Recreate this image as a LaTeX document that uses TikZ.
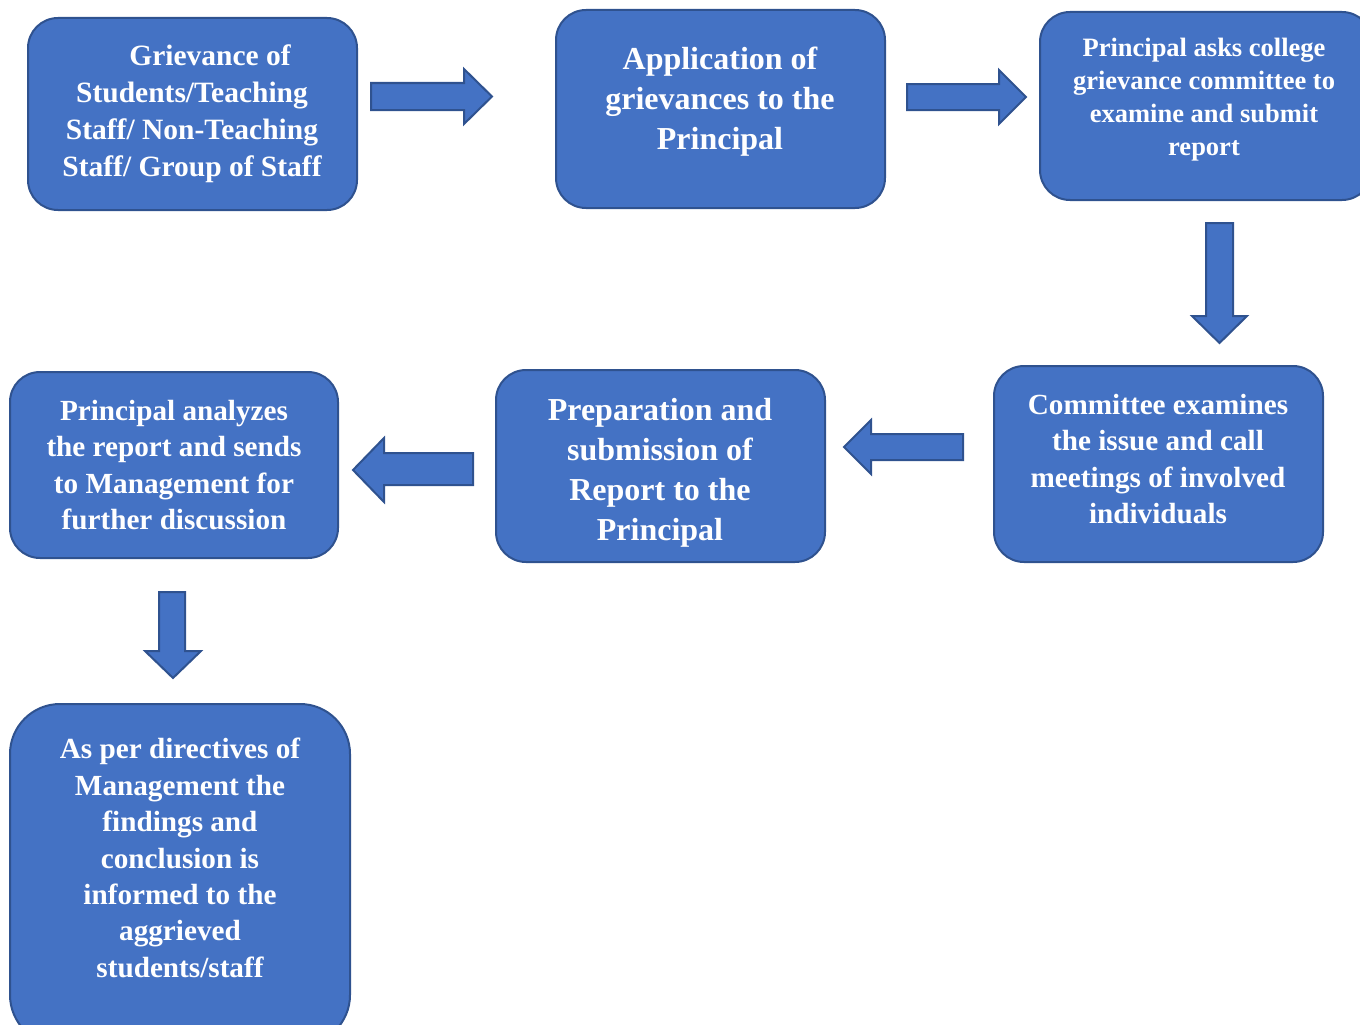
\documentclass[tikz,border=0pt]{standalone}
\usepackage{fontspec}
\setmainfont{Liberation Serif}
\definecolor{fillb}{HTML}{4472C4}
\definecolor{lineb}{HTML}{2F528F}
\tikzset{
  box/.style={draw=lineb, fill=fillb, line width=2pt, rounded corners=30pt, inner sep=0pt},
  txt/.style={text=white, align=center, inner sep=0pt},
  barrow/.style={draw=lineb, fill=fillb, line width=2pt, line join=miter},
  fA/.style={font=\fontsize{29.5}{37}\selectfont\bfseries},
  fB/.style={font=\fontsize{32}{40}\selectfont\bfseries},
  fC/.style={font=\fontsize{26.5}{33}\selectfont\bfseries},
  fD/.style={font=\fontsize{29.2}{36.4}\selectfont\bfseries},
}
\begin{document}
\begin{tikzpicture}[x=1pt,y=-1pt]
\useasboundingbox (0,0) rectangle (1360,1025);
\clip (0,0) rectangle (1360,1025);
% boxes
\node[box, minimum width=329pt, minimum height=192pt] (A) at (192.5,114) {};
\node[box, minimum width=329pt, minimum height=198pt] (B) at (720.5,109) {};
\node[box, minimum width=332pt, minimum height=188pt] (C) at (1206,106) {};
\node[box, minimum width=329pt, minimum height=196pt] (D) at (1158.5,464) {};
\node[box, minimum width=329pt, minimum height=192pt] (E) at (660.5,466) {};
\node[box, minimum width=328pt, minimum height=186pt] (F) at (174,465) {};
\node[box, rounded corners=50pt, minimum width=340pt, minimum height=341pt] (G) at (180,874.5) {};
% texts
\node[txt, fA] (tA) at (192,114) {\hspace*{36pt}Grievance of\\Students/Teaching\\Staff/ Non-Teaching\\Staff/ Group of Staff};
\node[txt, fB] (tB) at (720,101.5) {Application of\\grievances to the\\Principal};
\node[txt, fC] (tC) at (1204,100) {Principal asks college\\grievance committee to\\examine and submit\\report};
\node[txt, fD] (tD) at (1158,459) {Committee examines\\the issue and call\\meetings of involved\\individuals};
\node[txt, fB] (tE) at (660,472.5) {Preparation and\\submission of\\Report to the\\Principal};
\node[txt, fD] (tF) at (174,465) {Principal analyzes\\the report and sends\\to Management for\\further discussion};
\node[txt, fD] (tG) at (180,858) {As per directives of\\Management the\\findings and\\conclusion is\\informed to the\\aggrieved\\students/staff};
% block arrows
\draw[barrow] (371,83) -- (464,83) -- (464,69) -- (492,96.5) -- (464,124) -- (464,110) -- (371,110) -- cycle;
\draw[barrow] (907,84) -- (999,84) -- (999,70) -- (1026,97) -- (999,124) -- (999,110) -- (907,110) -- cycle;
\draw[barrow] (1206,223) -- (1233,223) -- (1233,316) -- (1247,316) -- (1219.5,343) -- (1192,316) -- (1206,316) -- cycle;
\draw[barrow] (963,434) -- (871,434) -- (871,420) -- (844,447) -- (871,474) -- (871,460) -- (963,460) -- cycle;
\draw[barrow] (473,453) -- (384,453) -- (384,438) -- (353,470) -- (384,502) -- (384,485) -- (473,485) -- cycle;
\draw[barrow] (159,592) -- (185,592) -- (185,651) -- (201,651) -- (173,678) -- (145,651) -- (159,651) -- cycle;
\end{tikzpicture}
\end{document}
